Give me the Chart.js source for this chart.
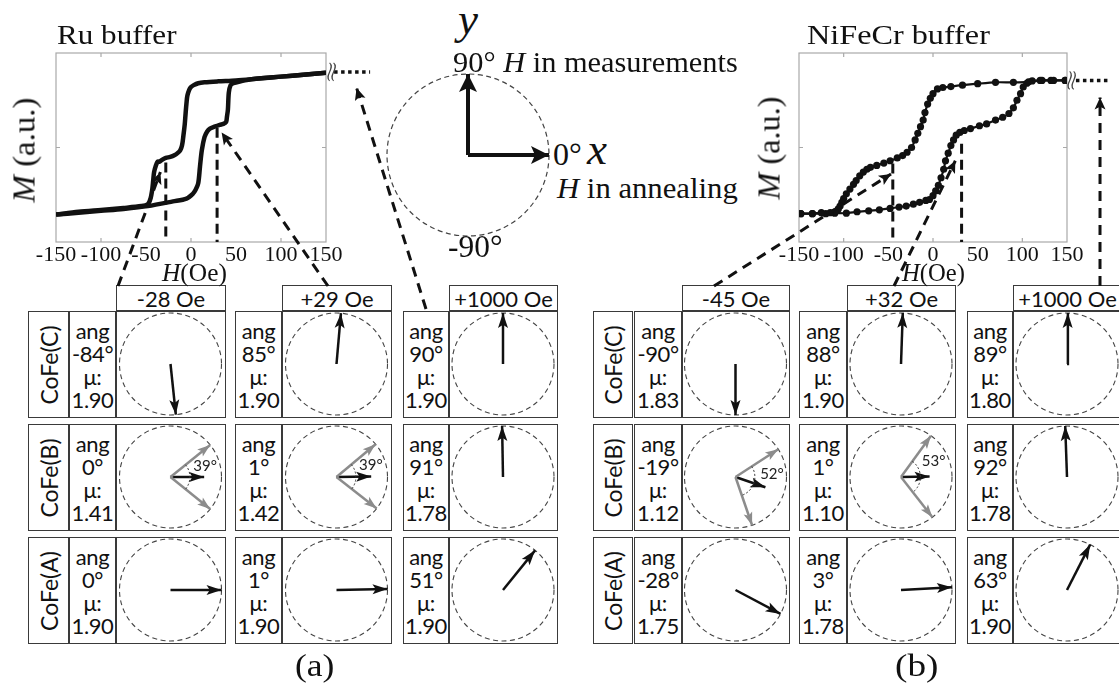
<!DOCTYPE html>
<html>
<head>
<meta charset="utf-8">
<script src="https://cdn.jsdelivr.net/npm/chart.js@4.4.1/dist/chart.umd.min.js"></script>
<style>
  body { margin: 0; background: #fff; }
  #fig { position: relative; width: 1119px; height: 683px; overflow: hidden; font-family: 'Liberation Serif', serif; color: #111; }
  .t { position: absolute; white-space: nowrap; line-height: 1; transform-origin: 0 0; }
  .box { position: absolute; box-sizing: border-box; border: 1.5px solid #3a3a3a; display: flex; align-items: center; justify-content: center;
         font-family: Lato, 'DejaVu Sans', sans-serif; font-size: 22px; color: #111; background: #fff; }
  .vals { line-height: 23px; text-align: center; letter-spacing: -0.4px; }
  .rot { display: inline-block; transform: rotate(-90deg); white-space: nowrap; font-size: 23px; }
  .deg { position: absolute; font-family: Lato, 'DejaVu Sans', sans-serif; font-size: 15px; transform: translate(-50%, -50%); line-height: 1; color: #222; }
</style>
</head>
<body>
<div id="fig"></div>
<script>
// Ru buffer loop (H in Oe, M normalised to the frame)
const ruDownH = [150, 125, 100, 75, 50, 30, 15, 8, 3, 0, -2, -4, -5, -6, -7, -8.5, -10, -12, -15, -18, -23, -28, -32, -35, -37, -39, -41, -42, -43, -45, -48, -55, -75, -100, -125, -150];
const ruDownM = [0.79, 0.77, 0.75, 0.73, 0.71, 0.70, 0.69, 0.68, 0.66, 0.64, 0.61, 0.55, 0.47, 0.36, 0.24, 0.12, 0.02, -0.03, -0.06, -0.08, -0.10, -0.11, -0.13, -0.15, -0.15, -0.19, -0.26, -0.35, -0.44, -0.54, -0.60, -0.62, -0.64, -0.66, -0.68, -0.71];
const ruUpH = [-150, -125, -100, -75, -48, -20, -5, 2, 5, 8, 10, 12, 15, 18, 21, 26, 32, 36, 39, 40, 41, 42, 44, 47, 51, 60, 75, 100, 125, 150];
const ruUpM = [-0.71, -0.69, -0.67, -0.65, -0.62, -0.57, -0.54, -0.49, -0.45, -0.38, -0.20, -0.03, 0.11, 0.17, 0.20, 0.22, 0.24, 0.25, 0.27, 0.33, 0.40, 0.58, 0.66, 0.68, 0.69, 0.71, 0.73, 0.75, 0.77, 0.79];
const ruMarkH = [-28, 29];
const ruMarkM = [-0.16, 0.21];

// NiFeCr buffer loop
const niDownH = [148, 135, 122, 107, 90, 70, 50, 33, 20, 11, 5, 0, -3, -6, -9, -11, -14, -17, -20, -24, -29, -34, -40, -48, -55, -63, -70, -74, -78, -82, -86, -89, -93, -97, -100, -102, -104, -106, -110, -115, -125, -135, -148];
const niDownM = [0.71, 0.71, 0.71, 0.695, 0.69, 0.69, 0.675, 0.66, 0.645, 0.635, 0.62, 0.57, 0.52, 0.46, 0.37, 0.29, 0.22, 0.15, 0.08, 0.00, -0.05, -0.085, -0.11, -0.14, -0.165, -0.19, -0.21, -0.23, -0.26, -0.30, -0.35, -0.39, -0.44, -0.49, -0.54, -0.58, -0.62, -0.65, -0.68, -0.69, -0.69, -0.70, -0.70];
const niUpH = [-148, -135, -120, -110, -97, -85, -72, -60, -48, -38, -30, -22, -15, -8, -4, 0, 3, 6, 9, 12, 14, 17, 20, 23, 26, 30, 35, 42, 52, 60, 70, 78, 85, 90, 94, 98, 101, 105, 111, 120, 132, 148];
const niUpM = [-0.70, -0.70, -0.70, -0.695, -0.695, -0.68, -0.67, -0.66, -0.645, -0.63, -0.62, -0.60, -0.58, -0.56, -0.55, -0.51, -0.46, -0.40, -0.32, -0.23, -0.14, -0.06, 0.02, 0.08, 0.13, 0.16, 0.18, 0.20, 0.23, 0.25, 0.29, 0.32, 0.36, 0.42, 0.50, 0.57, 0.64, 0.68, 0.705, 0.71, 0.71, 0.71];
const niMarkH = [-45, 32];
const niMarkM = [-0.17, 0.04];

const hTicks = [-150, -100, -50, 0, 50, 100, 150];

// where the dashed pointers land on each loop (H, M)
const ruLinkH = [-34, 34, 184];
const ruLinkM = [-0.26, 0.16, 0.63];
const niLinkH = [-47, 25, 187];
const niLinkM = [-0.28, -0.14, 0.53];
const ruTail = [154, 159, 199, 0.80];   // break H, dotted from H, to H, at M
const niTail = [153, 160, 198, 0.71];

// magnetisation state tables
const layers = ['CoFe(C)', 'CoFe(B)', 'CoFe(A)'];
const ruFields = ['-28 Oe', '+29 Oe', '+1000 Oe'];
const niFields = ['-45 Oe', '+32 Oe', '+1000 Oe'];
const ruAng = [[-84, 85, 90], [0, 1, 91], [0, 1, 51]];
const ruMu = [[1.90, 1.90, 1.90], [1.41, 1.42, 1.78], [1.90, 1.90, 1.90]];
const ruSplit = [[0, 0, 0], [39, 39, 0], [0, 0, 0]];
const ruNet = [[1, 1, 1], [0.66, 0.68, 1], [1, 1, 1]];
const niAng = [[-90, 88, 89], [-19, 1, 92], [-28, 3, 63]];
const niMu = [[1.83, 1.90, 1.80], [1.12, 1.10, 1.78], [1.75, 1.78, 1.90]];
const niSplit = [[0, 0, 0], [52, 53, 0], [0, 0, 0]];
const niNet = [[1, 1, 1], [0.62, 0.56, 1], [1, 1, 1]];

const frameAngles = [90, 0];   // H in measurements, H in annealing

Chart.defaults.font.family = "'Liberation Serif', serif";
Chart.defaults.color = '#111';
Chart.defaults.animation = false;
Chart.defaults.events = [];
Chart.defaults.plugins.legend.display = false;
Chart.defaults.plugins.tooltip.enabled = false;

const fig = document.getElementById('fig');
const rad = d => d * Math.PI / 180;
const zip = (hs, ms) => hs.map((h, i) => ({ x: h, y: ms[i] }));

function makeCanvas(left, top, w, h, parent) {
  const c = document.createElement('canvas');
  c.width = w; c.height = h;
  c.style.cssText = 'position:absolute;left:' + left + 'px;top:' + top + 'px;width:' + w + 'px;height:' + h + 'px';
  (parent || fig).appendChild(c);
  return c;
}

function label(html, x, base, size, fitW) {
  const d = document.createElement('div');
  d.className = 't';
  d.innerHTML = html;
  d.style.left = x + 'px';
  d.style.top = (base - 0.84 * size) + 'px';
  d.style.fontSize = size + 'px';
  fig.appendChild(d);
  if (fitW) d.style.transform = 'scaleX(' + (fitW / d.offsetWidth) + ')';
  return d;
}

function vlabel(html, cx, cy, size, fitW) {
  const d = document.createElement('div');
  d.className = 't';
  d.innerHTML = html;
  d.style.fontSize = size + 'px';
  d.style.left = cx + 'px';
  d.style.top = cy + 'px';
  fig.appendChild(d);
  const f = fitW / d.offsetWidth, h = d.offsetHeight;
  d.style.transform = 'rotate(-90deg) translate(' + (-fitW / 2) + 'px,' + (-h / 2) + 'px) scaleX(' + f + ')';
}

const arrowHeads = {
  id: 'arrowHeads',
  afterDatasetsDraw(chart) {
    const ctx = chart.ctx;
    chart.data.datasets.forEach((ds, i) => {
      if (!ds.head) return;
      const pts = chart.getDatasetMeta(i).data;
      const a = pts[pts.length - 2], b = pts[pts.length - 1];
      const ang = Math.atan2(b.y - a.y, b.x - a.x);
      const len = ds.head[0], half = ds.head[1];
      ctx.save();
      ctx.translate(b.x, b.y);
      ctx.rotate(ang);
      ctx.beginPath();
      ctx.moveTo(0, 0);
      ctx.lineTo(-len, -half);
      ctx.lineTo(-len * 0.78, 0);
      ctx.lineTo(-len, half);
      ctx.closePath();
      ctx.fillStyle = ds.borderColor;
      ctx.fill();
      ctx.restore();
    });
  }
};

const frameTicks = [-100, 0, 100];
const frame = {
  id: 'frame',
  beforeDatasetsDraw(chart) {
    const { ctx, chartArea: a, scales: { x, y } } = chart;
    ctx.save();
    ctx.strokeStyle = '#a9a9a9';
    ctx.lineWidth = 1.2;
    ctx.strokeRect(a.left, a.top, a.right - a.left, a.bottom - a.top);
    ctx.beginPath();
    frameTicks.forEach(v => {
      const px = x.getPixelForValue(v);
      ctx.moveTo(px, a.top); ctx.lineTo(px, a.top + 4);
      ctx.moveTo(px, a.bottom); ctx.lineTo(px, a.bottom - 4);
    });
    const py = y.getPixelForValue(0);
    ctx.moveTo(a.left, py); ctx.lineTo(a.left + 4, py);
    ctx.moveTo(a.right, py); ctx.lineTo(a.right - 4, py);
    ctx.stroke();
    ctx.restore();
  }
};

function loopChart(left, w, padL, padR, datasets) {
  const c = makeCanvas(left, 0, w, 290);
  return new Chart(c, {
    type: 'scatter',
    data: { datasets: datasets },
    options: {
      responsive: false,
      layout: { padding: { left: padL, right: padR, top: 53, bottom: 0 } },
      scales: {
        x: {
          min: -150, max: 150,
          afterBuildTicks: s => { s.ticks = hTicks.map(v => ({ value: v })); },
          afterFit: s => { s.height = 48; },
          grid: { display: false, drawTicks: false },
          border: { display: false },
          ticks: { font: { size: 22 }, padding: 0, maxRotation: 0, autoSkip: false, color: '#111' }
        },
        y: { display: false, min: -1, max: 1 }
      }
    },
    plugins: [frame]
  });
}

function markLines(hs, ms) {
  return hs.map((h, i) => ({
    data: [{ x: h, y: ms[i] }, { x: h, y: -1 }],
    showLine: true, pointRadius: 0, borderColor: '#111', borderWidth: 3, borderDash: [10, 6]
  }));
}

const ruLeft = 0, niLeft = 740;
const ruChart = loopChart(ruLeft, 380, 56, 54, [
  { data: zip(ruDownH, ruDownM), showLine: true, pointRadius: 0, borderColor: '#111', borderWidth: 4.5, tension: 0.3 },
  { data: zip(ruUpH, ruUpM), showLine: true, pointRadius: 0, borderColor: '#111', borderWidth: 4.5, tension: 0.3 }
].concat(markLines(ruMarkH, ruMarkM)));

const niChart = loopChart(niLeft, 379, 59, 52, [
  { data: zip(niDownH, niDownM), showLine: true, pointRadius: 3.6, pointBackgroundColor: '#111', pointBorderWidth: 0, borderColor: '#111', borderWidth: 2.2, tension: 0.2 },
  { data: zip(niUpH, niUpM), showLine: true, pointRadius: 3.6, pointBackgroundColor: '#111', pointBorderWidth: 0, borderColor: '#111', borderWidth: 2.2, tension: 0.2 }
].concat(markLines(niMarkH, niMarkM)));

// dashed reference circle, drawn from the chart's own scale
function ring(dash, width, color) {
  return {
    id: 'ring',
    beforeDatasetsDraw(chart) {
      const { ctx, scales: { x, y } } = chart;
      const cx = x.getPixelForValue(0), cy = y.getPixelForValue(0), r = x.getPixelForValue(1) - cx;
      ctx.save();
      ctx.setLineDash(dash);
      ctx.lineWidth = width;
      ctx.strokeStyle = color;
      ctx.beginPath();
      ctx.arc(cx, cy, r, 0, 2 * Math.PI);
      ctx.stroke();
      ctx.restore();
    }
  };
}

function splitArc(deg, half) {
  return {
    id: 'splitArc',
    afterDatasetsDraw(chart) {
      if (!half) return;
      const { ctx, scales: { x, y } } = chart;
      const cx = x.getPixelForValue(0), cy = y.getPixelForValue(0), r = x.getPixelForValue(1) - cx;
      ctx.save();
      ctx.setLineDash([2, 2]);
      ctx.lineWidth = 1;
      ctx.strokeStyle = '#333';
      ctx.beginPath();
      ctx.arc(cx, cy, r * 0.38, -rad(deg + half), -rad(deg - half), false);
      ctx.stroke();
      ctx.restore();
    }
  };
}

function dial(parent, left, top, w, h, arrows, dash, ringW, extra) {
  const c = makeCanvas(left, top, w, h, parent);
  const r = Math.min(w, h) / 2 - 1;
  return new Chart(c, {
    type: 'scatter',
    data: {
      datasets: arrows.map(a => ({
        data: [{ x: 0, y: 0 }, { x: a.len * Math.cos(rad(a.deg)), y: a.len * Math.sin(rad(a.deg)) }],
        showLine: true, pointRadius: 0, borderColor: a.color, borderWidth: a.width, head: a.head
      }))
    },
    options: {
      responsive: false,
      layout: { padding: 0 },
      scales: {
        x: { display: false, min: -w / 2 / r, max: w / 2 / r },
        y: { display: false, min: -h / 2 / r, max: h / 2 / r }
      }
    },
    plugins: [ring(dash, ringW, '#444'), arrowHeads].concat(extra || [])
  });
}

// central reference frame
dial(fig, 386, 73, 164, 164, frameAngles.map(d => ({ deg: d, len: 1, color: '#111', width: 4, head: [18, 9] })), [5, 3.5], 1.2);

// tables
const rowTop = [311, 424, 537], rowH = 107, headTop = 285, headH = 26;
const groups = [
  { label: [28, 69], cols: [[69, 116, 226], [235, 282, 392], [403, 449, 558]] },
  { label: [593, 633], cols: [[634, 682, 790], [799, 847, 956], [967, 1013, 1122]] }
];

function boxDiv(l, t, w, h, html) {
  const d = document.createElement('div');
  d.className = 'box';
  d.style.left = l + 'px'; d.style.top = t + 'px';
  d.style.width = w + 'px'; d.style.height = h + 'px';
  if (html) d.innerHTML = html;
  fig.appendChild(d);
  return d;
}

function buildGroup(g, fields, ang, mu, split, net) {
  rowTop.forEach((rt, i) => {
    boxDiv(g.label[0], rt, g.label[1] - g.label[0], rowH, '<span class="rot">' + layers[i] + '</span>');
  });
  g.cols.forEach((col, j) => {
    const vl = col[0], cl = col[1], cr = col[2];
    boxDiv(cl, headTop, cr - cl, headH, fields[j]);
    rowTop.forEach((rt, i) => {
      boxDiv(vl, rt, cl - vl, rowH, '<div class="vals">ang<br>' + ang[i][j] + '°<br>μ:<br>' + mu[i][j].toFixed(2) + '</div>');
      const cell = boxDiv(cl, rt, cr - cl, rowH);
      const w = cr - cl - 3, h = rowH - 3;
      const a = ang[i][j], s = split[i][j];
      const arrows = [];
      if (s) {
        arrows.push({ deg: a + s, len: 1, color: '#8c8c8c', width: 2.5, head: [13, 4.5] });
        arrows.push({ deg: a - s, len: 1, color: '#8c8c8c', width: 2.5, head: [13, 4.5] });
      }
      arrows.push({ deg: a, len: net[i][j], color: '#111', width: 2.5, head: [15, 5] });
      const ch = dial(cell, 0, 0, w, h, arrows, [5, 3.5], 1.1, [splitArc(a, s)]);
      if (s) {
        const x = ch.scales.x, y = ch.scales.y;
        const r = x.getPixelForValue(1) - x.getPixelForValue(0);
        const t = document.createElement('div');
        t.className = 'deg';
        t.textContent = s + '°';
        t.style.left = (x.getPixelForValue(0) + 0.72 * r * Math.cos(rad(a + s * 0.5))) + 'px';
        t.style.top = (y.getPixelForValue(0) - 0.72 * r * Math.sin(rad(a + s * 0.5))) + 'px';
        cell.appendChild(t);
      }
    });
  });
}

buildGroup(groups[0], ruFields, ruAng, ruMu, ruSplit, ruNet);
buildGroup(groups[1], niFields, niAng, niMu, niSplit, niNet);

// overlay: dashed pointers from the tables to the loops
function pagePt(ch, left, h, m) {
  return { x: left + ch.scales.x.getPixelForValue(h), y: ch.scales.y.getPixelForValue(m) };
}
const ruFrom = [[118, 286], [328, 286], [426, 309]];
const niFrom = [[714, 286], [894, 286], [1100, 286]];
const links = [];
ruLinkH.forEach((h, i) => links.push({ from: ruFrom[i], to: pagePt(ruChart, ruLeft, h, ruLinkM[i]) }));
niLinkH.forEach((h, i) => links.push({ from: niFrom[i], to: pagePt(niChart, niLeft, h, niLinkM[i]) }));
const tails = [
  { ch: ruChart, left: ruLeft, t: ruTail },
  { ch: niChart, left: niLeft, t: niTail }
];

const ovDatasets = links.map(l => ({
  data: [{ x: l.from[0], y: l.from[1] }, l.to],
  showLine: true, pointRadius: 0, borderColor: '#111', borderWidth: 3, borderDash: [10, 7], head: [12, 5.5]
})).concat(tails.map(o => ({
  data: [pagePt(o.ch, o.left, o.t[1], o.t[3]), pagePt(o.ch, o.left, o.t[2], o.t[3])],
  showLine: true, pointRadius: 0, borderColor: '#111', borderWidth: 3.5, borderDash: [3.5, 3.5]
})));

const breaks = {
  id: 'breaks',
  afterDatasetsDraw(chart) {
    const ctx = chart.ctx;
    ctx.save();
    ctx.strokeStyle = '#444';
    ctx.lineWidth = 1.2;
    tails.forEach(o => {
      const p = pagePt(o.ch, o.left, o.t[0], o.t[3]);
      [0, 4].forEach(k => {
        ctx.beginPath();
        ctx.moveTo(p.x + k, p.y - 9);
        ctx.bezierCurveTo(p.x + k + 6, p.y - 4, p.x + k - 6, p.y + 4, p.x + k, p.y + 9);
        ctx.stroke();
      });
    });
    ctx.restore();
  }
};

const ov = makeCanvas(0, 0, 1119, 683);
ov.style.pointerEvents = 'none';
ov.style.zIndex = 5;
new Chart(ov, {
  type: 'scatter',
  data: { datasets: ovDatasets },
  options: {
    responsive: false,
    layout: { padding: 0 },
    scales: {
      x: { display: false, min: 0, max: 1119 },
      y: { display: false, min: 0, max: 683, reverse: true }
    }
  },
  plugins: [arrowHeads, breaks]
});

// serif annotations
label('Ru buffer', 57, 45, 28, 120);
label('NiFeCr buffer', 807, 45, 28, 183);
label('<i>H</i>(Oe)', 162, 281, 25, 65);
label('<i>H</i>(Oe)', 902, 281, 25, 63);
vlabel('<i>M</i> (a.u.)', 24, 150, 31, 105);
vlabel('<i>M</i> (a.u.)', 769, 148, 31, 103);
label('<i>y</i>', 458, 35, 45);
label('90° <i>H</i> in measurements', 453, 72, 29, 285);
label('0°', 553, 165, 32);
label('<i>x</i>', 587, 165, 45);
label('<i>H</i> in annealing', 557, 198, 29, 181);
label('-90°', 448, 257, 32, 54);
label('(a)', 295, 676, 32, 40);
label('(b)', 895, 676, 32, 43);
</script>
</body>
</html>
